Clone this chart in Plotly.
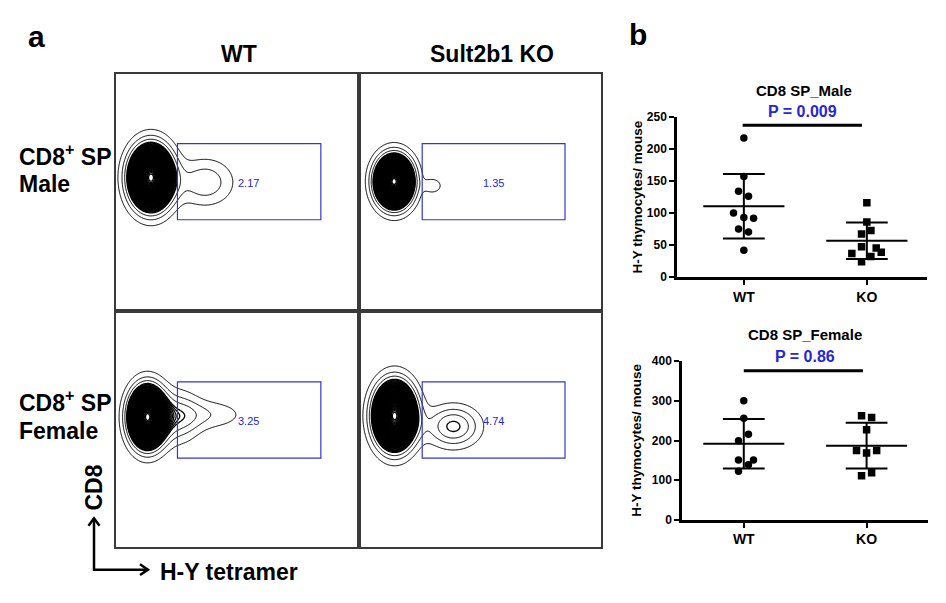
import numpy as np
import plotly.graph_objects as go

# ---- panel a: flow plots, both axes on a 0-100 scale ----
# each population: centre x, centre y, spread x, spread y, relative height
wt_male_pops = [[14.5, 56, 5.6, 8.4, 1.0], [37, 54, 8, 6.8, 0.14]]
ko_male_pops = [[13.8, 54.3, 4.9, 6.8, 1.0], [30, 52.5, 2.6, 2.2, 0.095]]
wt_female_pops = [[13, 55.5, 4.8, 8.0, 1.0], [26, 55.5, 6, 7.5, 0.15], [38, 56.5, 11, 4.5, 0.09]]
ko_female_pops = [[14, 56, 5.4, 8.7, 1.0], [38.5, 51.5, 7.4, 5.9, 0.214]]
gate = [25.5, 85, 38, 70.5]          # x0, x1, y0, y1
gate_freq = ["2.17", "1.35", "3.25", "4.74"]

# ---- panel b: H-Y thymocytes per mouse ----
groups = ["WT", "KO"]
male_wt = [217, 157, 134, 126, 100, 93, 92, 75, 70.5, 42]
male_wt_dx = [0, 0, -0.043, 0.038, -0.084, 0, 0.079, -0.043, 0.038, 0]
male_ko = [116, 86, 73, 67.5, 47.7, 45.6, 37, 39, 32.4, 24.3]
male_ko_dx = [0, 0, 0.033, -0.043, -0.043, 0.076, -0.122, 0.117, 0.033, -0.043]
female_wt = [300.6, 256, 216, 199.6, 151, 151, 138.8, 122.4]
female_wt_dx = [0, 0, 0.038, -0.043, -0.043, 0.079, 0.038, -0.043]
female_ko = [262.8, 258, 227.5, 175, 175, 168.4, 119, 111]
female_ko_dx = [-0.041, 0.041, 0, -0.082, 0.082, 0, 0.041, -0.041]
p_values = ["P = 0.009", "P = 0.86"]

W, H = 946, 603
FONT = "Liberation Sans, Arial, sans-serif"
BLUE = "#2626d9"


def px(x):
    return x / W


def py(y):
    return 1 - y / H


fig = go.Figure()

gx = np.linspace(0, 100, 301)
gy = np.linspace(0, 100, 301)
XX, YY = np.meshgrid(gx, gy)

flow = [wt_male_pops, ko_male_pops, wt_female_pops, ko_female_pops]
col_x = [[px(116), px(357)], [px(361), px(601)]]
row_y = [[py(309), py(69)], [py(553), py(313)]]

# a few sparse outer levels, then a densely packed core
level_sets = [(dict(start=0.05, end=0.15, size=0.05), 1.0),
              (dict(start=0.2, end=0.998, size=0.016), 1.3)]

for i, pops in enumerate(flow):
    z = np.zeros_like(XX)
    for cx, cy, sx, sy, w in pops:
        z += w * np.exp(-((XX - cx) ** 2 / (2 * sx ** 2) + (YY - cy) ** 2 / (2 * sy ** 2)))
    z = z / z.max()
    n = i + 1
    for lv, lw in level_sets:
        fig.add_trace(go.Contour(
            x=gx, y=gy, z=z, xaxis="x%d" % n, yaxis="y%d" % n,
            contours=dict(coloring="lines", **lv),
            line=dict(width=lw), colorscale=[[0, "black"], [1, "black"]],
            showscale=False, hoverinfo="skip"))
    ax = dict(domain=col_x[i % 2], range=[0, 100], showline=True, mirror=True,
              linecolor="#3a3a3a", linewidth=1.6, showticklabels=False,
              ticks="", showgrid=False, zeroline=False)
    ay = dict(domain=row_y[i // 2], range=[0, 100], showline=True, mirror=True,
              linecolor="#3a3a3a", linewidth=1.6, showticklabels=False,
              ticks="", showgrid=False, zeroline=False)
    fig.layout["xaxis%d" % n] = dict(ax, anchor="y%d" % n)
    fig.layout["yaxis%d" % n] = dict(ay, anchor="x%d" % n)
    fig.add_shape(type="rect", xref="x%d" % n, yref="y%d" % n,
                  x0=gate[0], x1=gate[1], y0=gate[2], y1=gate[3],
                  line=dict(color="#3535cf", width=1.2))
    fig.add_annotation(x=55, y=53.7, xref="x%d" % n, yref="y%d" % n,
                       text=gate_freq[i], showarrow=False,
                       font=dict(family=FONT, size=11, color=BLUE))

# ---- dot plots ----
dot_sets = [
    (male_wt, male_wt_dx, male_ko, male_ko_dx, [0, 250], 50,
     [px(677), px(927)], [py(276.7), py(112.3)], [0.4565, 2.489]),
    (female_wt, female_wt_dx, female_ko, female_ko_dx, [0, 400], 100,
     [px(682), px(928)], [py(525), py(362.7)], [0.497, 2.5]),
]
for j, (wt, wdx, ko, kdx, yr, dt, xd, yd, xr) in enumerate(dot_sets):
    n = 5 + j
    xa, ya = "x%d" % n, "y%d" % n
    for k, (vals, dx, sym) in enumerate([(wt, wdx, "circle"), (ko, kdx, "square")]):
        c = k + 1
        fig.add_trace(go.Scatter(
            x=[c + d for d in dx], y=vals, mode="markers", xaxis=xa, yaxis=ya,
            marker=dict(symbol=sym, size=7.5, color="black"), showlegend=False))
        m = np.mean(vals)
        s = np.std(vals, ddof=1)
        fig.add_trace(go.Scatter(
            x=[c - 0.33, c + 0.33, None, c, c, None, c - 0.17, c + 0.17, None, c - 0.17, c + 0.17],
            y=[m, m, None, m - s, m + s, None, m + s, m + s, None, m - s, m - s],
            mode="lines", xaxis=xa, yaxis=ya, line=dict(color="black", width=2),
            showlegend=False))
    fig.layout["xaxis%d" % n] = dict(
        domain=xd, range=xr, anchor=ya, showline=True, linecolor="black", linewidth=2.5,
        tickmode="array", tickvals=[1, 2], ticktext=groups, ticks="outside",
        ticklen=5, tickwidth=2, tickcolor="black", showgrid=False, zeroline=False,
        tickfont=dict(family=FONT, size=14, color="black", weight="bold"))
    fig.layout["yaxis%d" % n] = dict(
        domain=yd, range=yr, anchor=xa, showline=True, linecolor="black", linewidth=2.5,
        dtick=dt, ticks="outside", ticklen=5, tickwidth=2, tickcolor="black",
        showgrid=False, zeroline=False,
        tickfont=dict(family=FONT, size=12, color="black", weight="bold"))

# significance bars
fig.add_shape(type="line", xref="x5", yref="y5", x0=0.99, x1=1.96, y0=236.5, y1=236.5,
              line=dict(color="black", width=3))
fig.add_shape(type="line", xref="x6", yref="y6", x0=1.0, x1=1.97, y0=376, y1=376,
              line=dict(color="black", width=3))

texts = [
    ("a", 36, 30, 30, "center", 0),
    ("WT", 239, 48, 23, "center", 0),
    ("Sult2b1 KO", 492, 48, 23, "center", 0),
    ("b", 638, 28, 30, "center", 0),
    ("CD8 SP_Male", 804, 85, 15, "center", 0),
    ("CD8 SP_Female", 805, 335, 15, "center", 0),
    ("H-Y thymocytes/ mouse", 637, 195, 13.5, "center", -90),
    ("H-Y thymocytes/ mouse", 637, 444, 13.5, "center", -90),
    ("CD8", 94, 492, 23, "center", -90),
    ("H-Y tetramer", 158, 578, 23, "left", 0),
]
for t, x, y, sz, anc, ang in texts:
    fig.add_annotation(x=px(x), y=py(y), xref="paper", yref="paper", text=t,
                       showarrow=False, xanchor=anc, yanchor="middle", textangle=ang,
                       font=dict(family=FONT, size=sz, color="black", weight="bold"))

for t, y in [("CD8<sup>+</sup> SP", 152), ("Male", 181), ("CD8<sup>+</sup> SP", 403), ("Female", 434)]:
    fig.add_annotation(x=px(17), y=py(y), xref="paper", yref="paper", text=t,
                       showarrow=False, xanchor="left", yanchor="middle",
                       font=dict(family=FONT, size=23, color="black", weight="bold"))

for t, x, y in [(p_values[0], 802, 107), (p_values[1], 805, 358)]:
    fig.add_annotation(x=px(x), y=py(y), xref="paper", yref="paper", text=t,
                       showarrow=False, xanchor="center", yanchor="middle",
                       font=dict(family=FONT, size=16, color=BLUE, weight="bold"))

# CD8 / H-Y tetramer axis arrows
fig.add_shape(type="path", xref="paper", yref="paper",
              path="M %f,%f L %f,%f L %f,%f" % (px(94), py(524), px(94), py(576), px(147), py(576)),
              line=dict(color="black", width=2.5))
fig.add_shape(type="path", xref="paper", yref="paper",
              path="M %f,%f L %f,%f L %f,%f" % (px(88.5), py(531), px(94), py(523.5), px(99.5), py(531)),
              line=dict(color="black", width=2.5))
fig.add_shape(type="path", xref="paper", yref="paper",
              path="M %f,%f L %f,%f L %f,%f" % (px(140), py(570.5), px(148), py(576), px(140), py(581.5)),
              line=dict(color="black", width=2.5))

fig.update_layout(width=W, height=H, margin=dict(l=0, r=0, t=0, b=0),
                  paper_bgcolor="white", plot_bgcolor="white", showlegend=False)

fig.write_html("out.html", config={"displayModeBar": False},
               post_script="document.body.style.margin='0px';")
